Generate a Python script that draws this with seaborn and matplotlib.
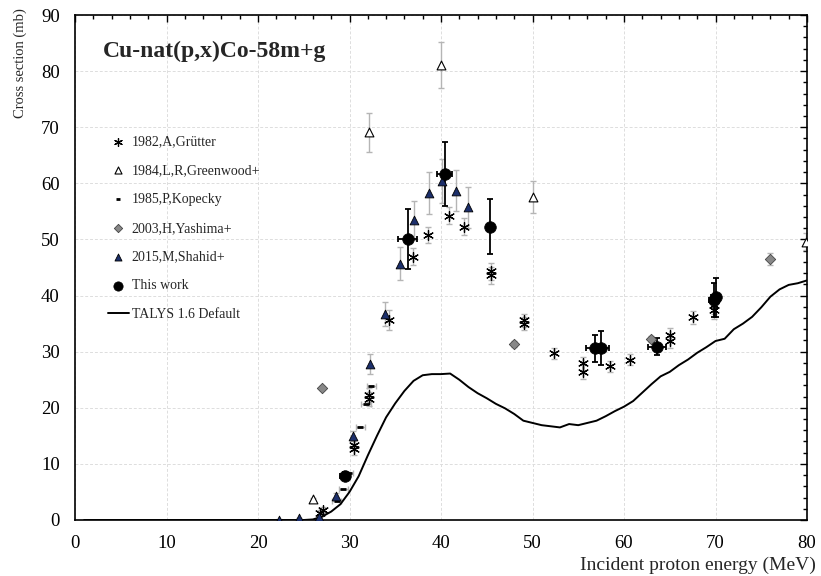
import numpy as np
import pandas as pd
import matplotlib
matplotlib.use("Agg")
import matplotlib.pyplot as plt
import seaborn as sns
from matplotlib.ticker import MultipleLocator

# TALYS 1.6 default
talys_e = [1, 5, 10, 15, 20, 24, 25, 26, 27, 28, 29, 30, 31, 32, 33, 34, 35, 36, 37, 38, 39, 40,
           41, 42, 43, 44, 45, 46, 47, 48, 49, 50, 51, 52, 53, 54, 55, 56, 57, 58, 59, 60,
           61, 62, 63, 64, 65, 66, 67, 68, 69, 70, 71, 72, 73, 74, 75, 76, 77, 78, 79, 80]
talys_xs = [0, 0, 0, 0, 0, 0, 0, 0.1, 0.6, 1.5, 2.8, 5.0, 7.8, 11.5, 15.0, 18.3, 20.8, 23.0, 24.8, 25.8, 26.0, 26.0,
            26.1, 25.0, 23.7, 22.6, 21.7, 20.7, 19.9, 18.9, 17.7, 17.3, 16.9, 16.7, 16.5, 17.1, 16.9, 17.3, 17.7, 18.5, 19.4, 20.2,
            21.2, 22.7, 24.2, 25.6, 26.4, 27.6, 28.6, 29.8, 30.8, 31.9, 32.3, 34.0, 35.0, 36.2, 37.9, 39.8, 41.1, 41.9, 42.2, 42.7]

# 1982 Grutter
gru_e = [26.8, 27.1, 30.5, 30.5, 32.1, 32.1, 34.3, 36.9, 38.6, 40.9, 42.5, 45.5, 45.5, 49.1, 49.1,
         52.4, 55.5, 55.5, 58.5, 60.7, 65.0, 65.0, 67.5, 69.8, 69.8]
gru_xs = [1.2, 1.8, 12.6, 13.4, 21.6, 22.3, 35.7, 46.9, 50.8, 54.2, 52.3, 44.3, 43.6, 35.6, 35.0,
          29.7, 27.9, 26.4, 27.4, 28.6, 33.0, 31.9, 36.1, 37.4, 38.3]
gru_err = [0.6, 0.6, 1.0, 1.0, 1.3, 1.3, 1.8, 1.5, 1.5, 1.5, 1.5, 1.5, 1.5, 1.2, 1.2,
           1.0, 1.2, 1.2, 1.0, 1.0, 1.2, 1.2, 1.2, 1.5, 1.5]

# 1984 Greenwood
gre_e = [26.0, 32.1, 40.0, 50.0, 79.9]
gre_xs = [3.7, 69.1, 81.1, 57.6, 49.6]
gre_err = [0.3, 3.5, 4.1, 2.9, 1.5]

# 1985 Kopecky
kop_e = [28.6, 29.3, 29.9, 31.2, 31.8, 32.4]
kop_xs = [3.3, 5.5, 8.3, 16.5, 20.6, 23.8]
kop_xerr = [0.5, 0.5, 0.5, 0.5, 0.5, 0.5]

# 2003 Yashima
yas_e = [27.0, 48.0, 62.9, 76.0]
yas_xs = [23.5, 31.4, 32.3, 46.5]
yas_err = [0.4, 0.5, 0.5, 1.0]

# 2015 Shahid
sha_e = [22.3, 24.5, 26.7, 28.5, 30.4, 32.2, 33.9, 35.5, 37.1, 38.7, 40.1, 41.6, 43.0]
sha_xs = [0.0, 0.3, 0.6, 4.3, 15.0, 27.8, 36.7, 45.7, 53.4, 58.3, 60.4, 58.7, 55.7]
sha_err = [0.1, 0.1, 0.2, 0.5, 0.9, 1.8, 2.2, 3.0, 3.5, 3.7, 3.9, 3.7, 3.6]

# This work
tw_e = [29.5, 36.35, 40.4, 45.4, 56.8, 57.5, 63.6, 69.8, 70.0]
tw_xs = [7.9, 50.1, 61.6, 52.3, 30.6, 30.6, 30.9, 39.2, 39.7]
tw_yerr = [0.6, 5.3, 5.7, 4.9, 2.4, 3.0, 1.5, 3.0, 3.5]
tw_xerr = [0.5, 1.0, 0.8, 0.3, 1.0, 0.9, 1.0, 0.5, 0.5]

sns.set_style("white")
plt.rcParams['font.family'] = ['Liberation Serif', 'DejaVu Serif']

fig = plt.figure(figsize=(8.21, 5.76), dpi=100)
ax = fig.add_axes([75 / 821, 56 / 576, 732 / 821, 505 / 576])

grey = '#b5b5b5'
ekw = dict(fmt='none', ecolor=grey, elinewidth=1, capsize=2, capthick=1, zorder=2)

ax.errorbar(gru_e, gru_xs, yerr=gru_err, **ekw)
ax.errorbar(gre_e, gre_xs, yerr=gre_err, **ekw)
ax.errorbar(kop_e, kop_xs, xerr=kop_xerr, **ekw)
ax.errorbar(yas_e, yas_xs, yerr=yas_err, **ekw)
ax.errorbar(sha_e, sha_xs, yerr=sha_err, **ekw)
ax.errorbar(tw_e, tw_xs, yerr=tw_yerr, xerr=tw_xerr, fmt='none', ecolor='black',
            elinewidth=1.3, capsize=2.5, capthick=1.3, zorder=3)

sns.lineplot(x=talys_e, y=talys_xs, ax=ax, color='black', lw=1.4, zorder=2,
             label='TALYS 1.6 Default')

sns.scatterplot(x=gru_e, y=gru_xs, ax=ax, marker=(6, 2, 0), s=50, color='black',
                linewidth=0.9, zorder=4, label='1982,A,Grütter')
sns.scatterplot(x=gre_e, y=gre_xs, ax=ax, marker='^', s=40, facecolor='white',
                edgecolor='black', linewidth=0.8, zorder=4, label='1984,L,R,Greenwood+')
sns.scatterplot(x=kop_e, y=kop_xs, ax=ax, marker='_', s=20, color='black',
                linewidth=2.0, zorder=4, label='1985,P,Kopecky')
sns.scatterplot(x=yas_e, y=yas_xs, ax=ax, marker='D', s=28, color='#888888',
                edgecolor='#444444', linewidth=0.6, zorder=4, label='2003,H,Yashima+')
sns.scatterplot(x=sha_e, y=sha_xs, ax=ax, marker='^', s=40, color='#1c2f6b',
                edgecolor='black', linewidth=0.6, zorder=4, label='2015,M,Shahid+')
sns.scatterplot(x=tw_e, y=tw_xs, ax=ax, marker='o', s=70, color='black',
                edgecolor='black', linewidth=0.5, zorder=5, label='This work')

ax.set_xlim(0, 80)
ax.set_ylim(0, 90)
ax.xaxis.set_major_locator(MultipleLocator(10))
ax.xaxis.set_minor_locator(MultipleLocator(2))
ax.yaxis.set_major_locator(MultipleLocator(10))
ax.yaxis.set_minor_locator(MultipleLocator(2))
ax.grid(True, which='major', color='#dddddd', linestyle=(0, (3, 2)), linewidth=0.7)
ax.set_axisbelow(True)
ax.tick_params(which='both', direction='in', top=True, right=True, colors='black',
               labelsize=13.5, width=1)
ax.tick_params(which='major', length=5, pad=11)
ax.tick_params(which='minor', length=3)
for sp in ax.spines.values():
    sp.set_color('black')
    sp.set_linewidth(1.2)

ax.set_xlabel('Incident proton energy (MeV)', fontsize=14, ha='right')
ax.xaxis.set_label_coords(1.012, -0.072)
ax.set_ylabel('Cross section (mb)', fontsize=10.5, ha='right')
ax.yaxis.set_label_coords(-0.065, 1.014)

ax.text(0.038, 0.927, 'Cu-nat(p,x)Co-58m+g', transform=ax.transAxes, fontsize=17,
        fontweight='bold', va='center', ha='left')

handles, labels = ax.get_legend_handles_labels()
order = ['1982,A,Grütter', '1984,L,R,Greenwood+', '1985,P,Kopecky', '2003,H,Yashima+',
         '2015,M,Shahid+', 'This work', 'TALYS 1.6 Default']
hmap = dict(zip(labels, handles))
ax.legend([hmap[k] for k in order], order, loc='upper left', bbox_to_anchor=(0.045, 0.762),
          frameon=False, fontsize=10, handlelength=1.5, handletextpad=0.2,
          labelspacing=1.14, borderpad=0, borderaxespad=0, markerscale=0.8)

fig.savefig('out.png', dpi=100)
